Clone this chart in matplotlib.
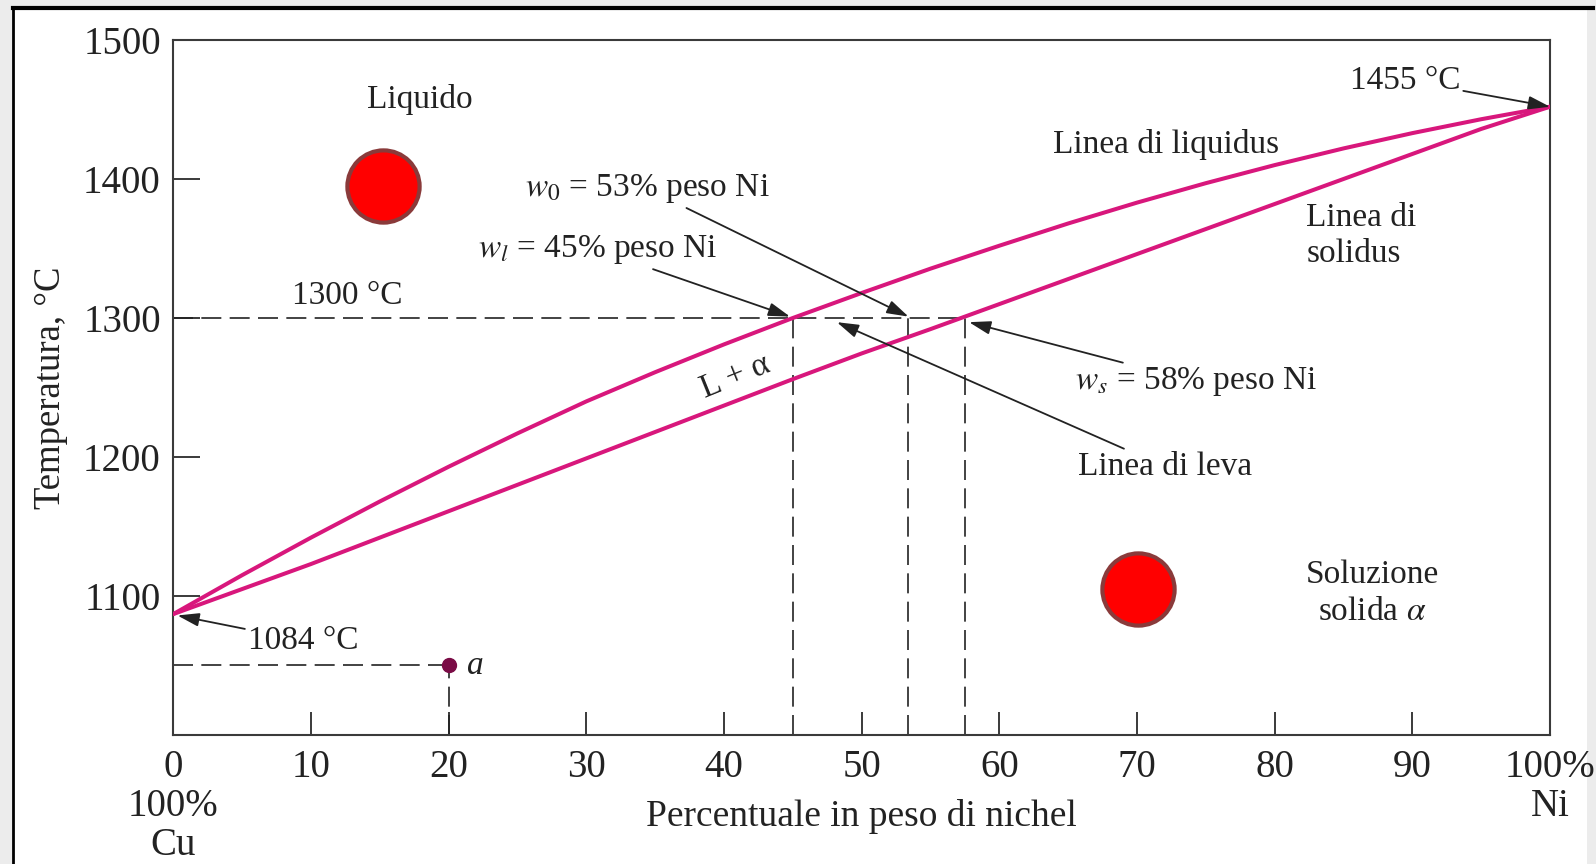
import matplotlib
matplotlib.use("Agg")
import matplotlib.pyplot as plt
from matplotlib.patches import Rectangle
from matplotlib.lines import Line2D

plt.rcParams['font.family'] = ['Liberation Serif', 'DejaVu Serif']
plt.rcParams['mathtext.fontset'] = 'stix'

# ---- data ----
liquidus_x = [0, 5, 10, 15, 20, 25, 30, 35, 40, 45, 50, 55, 60, 65, 70, 75, 80, 85, 90, 95, 100]
liquidus_T = [1087, 1115, 1142, 1168, 1193, 1217, 1240, 1261, 1281, 1300, 1318, 1335.5, 1352,
              1368, 1383, 1397, 1410, 1422, 1433, 1443, 1452]
solidus_x = [0, 5, 10, 15, 20, 25, 30, 35, 40, 45, 50, 55, 60, 65, 70, 75, 80, 85, 90, 95, 100]
solidus_T = [1087, 1105, 1123, 1142, 1161, 1180, 1199, 1218, 1237, 1256, 1274.5, 1292, 1310,
             1328, 1346, 1364, 1382, 1400, 1418, 1436, 1452]

T_iso = 1300
w_l = 45
w_0 = 53.4
w_s = 57.5
point_a = (20, 1050)

x_ticks = [0, 10, 20, 30, 40, 50, 60, 70, 80, 90, 100]
x_ticklabels = ['0\n100%\nCu', '10', '20', '30', '40', '50', '60', '70', '80', '90', '100%\nNi']
y_ticks = [1100, 1200, 1300, 1400, 1500]
y_ticklabels = ['1100', '1200', '1300', '1400', '1500']
red_dots = [(15.2, 1395), (70.1, 1105)]

W, H = 1596, 864
fig = plt.figure(figsize=(W / 100, H / 100), dpi=100)
fig.patch.set_facecolor('#ececec')
fig.patches.append(Rectangle((13 / W, 0), (1587 - 13) / W, 1 - 8 / H,
                             transform=fig.transFigure, facecolor='white',
                             edgecolor='none', zorder=-10))
fig.lines.append(Line2D([12.5 / W, 1593 / W], [1 - 7.5 / H, 1 - 7.5 / H],
                        transform=fig.transFigure, color='black', lw=3, zorder=-5))
fig.lines.append(Line2D([13 / W, 13 / W], [0, 1 - 7.5 / H],
                        transform=fig.transFigure, color='black', lw=2, zorder=-5))

ax = fig.add_axes([173.3 / W, 1 - 735 / H, (1550 - 173.3) / W, (735 - 40) / H])
ax.set_facecolor('none')
ax.set_xlim(0, 100)
ax.set_ylim(1000, 1500)

for s in ax.spines.values():
    s.set_color('#3a3a3a')
    s.set_linewidth(1.5)

FS = 24
TFS = 28
ax.set_xticks(x_ticks)
ax.set_xticklabels(x_ticklabels, fontsize=TFS, color='#222222', linespacing=1.08)
ax.set_yticks(y_ticks)
ax.set_yticklabels(y_ticklabels, fontsize=TFS, color='#222222')
ax.tick_params(axis='x', direction='in', length=16.5, width=1.4, color='#3a3a3a', pad=10)
ax.tick_params(axis='y', direction='in', length=19.5, width=1.4, color='#3a3a3a', pad=9)

ax.set_xlabel('Percentuale in peso di nichel', fontsize=27, color='#222222', va='center')
ax.xaxis.set_label_coords(0.5, -(816 - 735) / 695)
ax.set_ylabel('Temperatura, °C', fontsize=26.5, color='#222222', va='center')
ax.yaxis.set_label_coords(-(173.3 - 51) / 1376.7, 0.5)

pink = '#d8177c'
ax.plot(liquidus_x, liquidus_T, color=pink, lw=2.9, solid_capstyle='round',
        solid_joinstyle='round', zorder=3)
ax.plot(solidus_x, solidus_T, color=pink, lw=2.9, solid_capstyle='round',
        solid_joinstyle='round', zorder=3)

dash_kw = dict(color='#222222', lw=1.2, dashes=(12, 5), zorder=2)
ax.plot([0, w_s], [T_iso, T_iso], **dash_kw)
for w in (w_l, w_0, w_s):
    ax.plot([w, w], [1000, T_iso], **dash_kw)
ax.plot([0, point_a[0]], [point_a[1], point_a[1]], **dash_kw)
ax.plot([point_a[0], point_a[0]], [1000, point_a[1]], **dash_kw)
ax.plot([point_a[0]], [point_a[1]], 'o', color='#7a0b45', ms=10, zorder=4)
ax.text(point_a[0] + 1.3, point_a[1], 'a', fontsize=FS, style='italic',
        va='center', ha='left', color='#222222')

for (cx, cy) in red_dots:
    ax.plot([cx], [cy], 'o', ms=52, markerfacecolor='#ff0000',
            markeredgecolor='#8a3a3a', markeredgewidth=3, zorder=5)

tc = '#222222'
ax.text(17.9, 1457, 'Liquido', fontsize=FS, ha='center', va='center', color=tc)
ax.text(72.1, 1425, 'Linea di liquidus', fontsize=FS, ha='center', va='center', color=tc)
ax.text(82.3, 1359, 'Linea di\nsolidus', fontsize=FS, ha='left', va='center', color=tc,
        linespacing=1.25)
ax.text(87.1, 1102, 'Soluzione\nsolida $\\alpha$', fontsize=FS, ha='center', va='center',
        color=tc, linespacing=1.25)
ax.text(12.6, 1316, '1300 °C', fontsize=FS, ha='center', va='center', color=tc)
ax.text(40.8, 1258, 'L + α', fontsize=FS, ha='center', va='center', color=tc, rotation=22)

arrow_kw = dict(arrowstyle='-|>,head_length=0.55,head_width=0.17', color='#222222', lw=1.3,
                shrinkA=0, shrinkB=0)
ax.annotate('$w_0$ = 53% peso Ni', xy=(w_0, T_iso + 1), xytext=(43.3, 1393),
            fontsize=FS, ha='right', va='center', color=tc, arrowprops=arrow_kw)
ax.annotate('$w_l$ = 45% peso Ni', xy=(w_l - 0.2, T_iso + 1), xytext=(39.5, 1349),
            fontsize=FS, ha='right', va='center', color=tc, arrowprops=arrow_kw)
ax.annotate('$w_s$ = 58% peso Ni', xy=(w_s + 0.3, T_iso - 3), xytext=(65.5, 1254),
            fontsize=FS, ha='left', va='center', color=tc, arrowprops=arrow_kw)
ax.annotate('Linea di leva', xy=(48.2, T_iso - 3), xytext=(65.7, 1193),
            fontsize=FS, ha='left', va='center', color=tc, arrowprops=arrow_kw)
ax.annotate('1455 °C', xy=(100, 1452), xytext=(93.5, 1471),
            fontsize=FS, ha='right', va='center', color=tc, arrowprops=arrow_kw)
ax.annotate('1084 °C', xy=(0.3, 1086), xytext=(5.4, 1068),
            fontsize=FS, ha='left', va='center', color=tc, arrowprops=arrow_kw)

fig.savefig('out.png', dpi=100, facecolor=fig.get_facecolor())
